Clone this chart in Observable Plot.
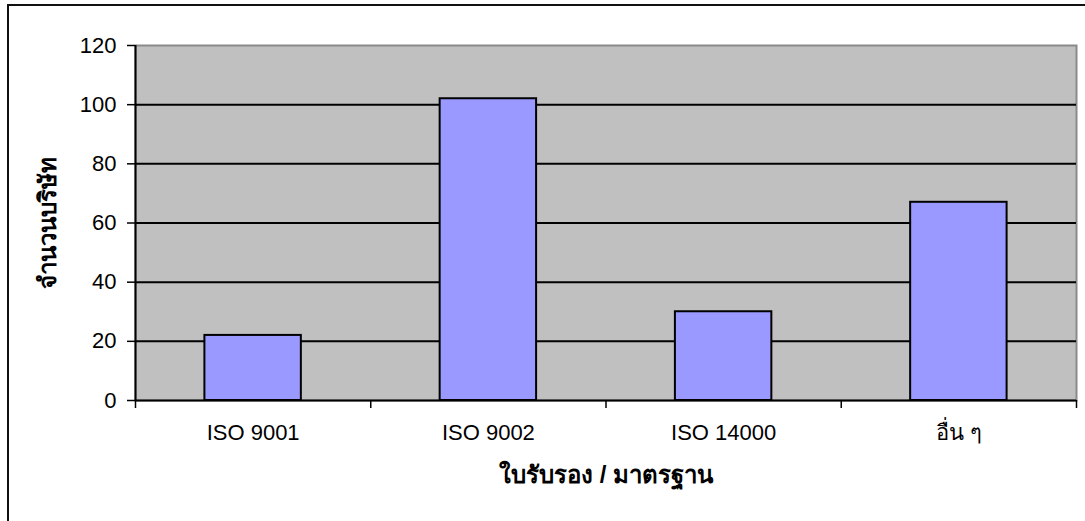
<!DOCTYPE html>
<html>
<head>
<meta charset="utf-8">
<script src="https://cdn.jsdelivr.net/npm/d3@7"></script>
<script src="https://cdn.jsdelivr.net/npm/@observablehq/plot@0.6"></script>
<style>
  html, body { margin: 0; padding: 0; background: #fff; overflow: hidden; width: 1085px; height: 521px; }
  #wrap { position: relative; width: 1085px; height: 521px; }
  #border { position: absolute; left: 7px; top: 4px; width: 1200px; height: 700px; border: 2px solid #111; box-sizing: border-box; }
  #chart { position: absolute; left: 0; top: 0; }
</style>
</head>
<body>
<div id="wrap"><div id="border"></div><div id="chart"></div></div>
<script>
const categories = ["ISO 9001", "ISO 9002", "ISO 14000", "อื่น ๆ"];
const counts = [22, 102, 30, 67];
const yTicks = [0, 20, 40, 60, 80, 100, 120];
const xTitle = "ใบรับรอง / มาตรฐาน";
const yTitle = "จำนวนบริษัท";

const data = categories.map((c, i) => ({category: c, index: i, value: counts[i]}));
const barPad = 0.295;
const font = "'Liberation Sans', Arial, 'Noto Sans', sans-serif";

const chart = Plot.plot({
  width: 1085,
  height: 521,
  marginLeft: 135,
  marginTop: 45,
  marginRight: 9,
  marginBottom: 121,
  style: {fontFamily: font, fontSize: "22px", color: "#000", background: "transparent", overflow: "visible"},
  x: {domain: [0, categories.length], axis: null},
  y: {domain: [0, 120], axis: null},
  marks: [
    Plot.frame({fill: "#c0c0c0", stroke: "#8a8a8a", strokeWidth: 2}),
    Plot.ruleY(yTicks.filter(t => t > 0 && t < 120), {stroke: "#000", strokeWidth: 2}),
    Plot.rectY(data, {x1: d => d.index + barPad, x2: d => d.index + 1 - barPad, y: "value", fill: "#9999ff", stroke: "#000", strokeWidth: 2}),
    Plot.ruleY([0], {stroke: "#000", strokeWidth: 2}),
    Plot.ruleX([0], {stroke: "#000", strokeWidth: 2}),
    Plot.axisY({ticks: yTicks, tickSize: 8, tickPadding: 11, fontSize: 22, label: null, stroke: "#000", strokeWidth: 1.5}),
    Plot.axisX({ticks: d3.range(categories.length + 1), tickSize: 8, tickFormat: () => "", label: null, stroke: "#000", strokeWidth: 1.5}),
    Plot.axisX({ticks: categories.map((c, i) => i + 0.5), tickFormat: v => categories[Math.floor(v)], tickSize: 0, tickPadding: 24, fontSize: 22, label: null}),
    Plot.text([xTitle], {frameAnchor: "bottom", dy: 82, text: d => d, fontWeight: "bold", fontSize: 24}),
    Plot.text([yTitle], {frameAnchor: "left", textAnchor: "middle", dx: -87, rotate: -90, text: d => d, fontWeight: "bold", fontSize: 24})
  ]
});
document.getElementById("chart").appendChild(chart);
</script>
</body>
</html>
